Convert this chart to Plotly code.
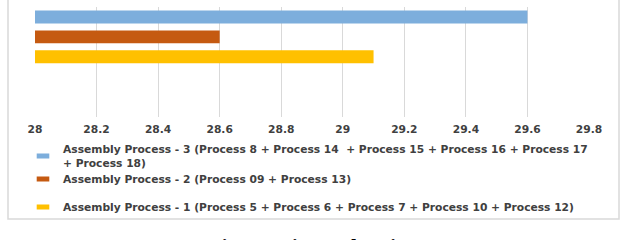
import plotly.graph_objects as go

# ---- data ----
category = ["Cycle time"]
series_names = [
    "Assembly Process - 3 (Process 8 + Process 14  + Process 15 + Process 16 + Process 17<br>+ Process 18)",
    "Assembly Process - 2 (Process 09 + Process 13)",
    "Assembly Process - 1 (Process 5 + Process 6 + Process 7 + Process 10 + Process 12)",
]
series_values = [29.6, 28.6, 29.1]
series_colors = ["#7DAEDC", "#C55A11", "#FFC000"]
tick_vals = [28, 28.2, 28.4, 28.6, 28.8, 29, 29.2, 29.4, 29.6, 29.8]
tick_text = ["28", "28.2", "28.4", "28.6", "28.8", "29", "29.2", "29.4", "29.6", "29.8"]
caption = "Fig 4.4 Line Balancing"

W, H = 627, 240
ML, MR, MT, MB = 35, 38, 7, 123
PW, PH = W - ML - MR, H - MT - MB

def px_x(p):
    return (p - ML) / PW

def px_y(p):
    return (H - MB - p) / PH

FONT = dict(family="DejaVu Sans", size=10.7, color="#404040", weight="bold")

fig = go.Figure()
legend_ids = ["legend", "legend2", "legend3"]
for name, val, col, lg in zip(series_names, series_values, series_colors, legend_ids):
    fig.add_trace(go.Bar(
        y=category, x=[val], orientation="h", name=name,
        marker=dict(color=col, line=dict(width=0)),
        showlegend=False, hoverinfo="x",
    ))
    # legend proxy
    fig.add_trace(go.Scatter(
        x=[None], y=[None], mode="markers", name=name,
        marker=dict(symbol="line-ew", size=9, line=dict(width=5, color=col)),
        showlegend=True, legend=lg,
    ))

legend_common = dict(font=FONT, bgcolor="rgba(0,0,0,0)", borderwidth=0,
                     xanchor="left", yanchor="middle", itemwidth=30)
fig.update_layout(
    width=W, height=H,
    margin=dict(l=ML, r=MR, t=MT, b=MB),
    paper_bgcolor="white", plot_bgcolor="white",
    barmode="group", bargap=0, bargroupgap=0.35,
    xaxis=dict(range=[28, 29.8], tickvals=tick_vals, ticktext=tick_text,
               showgrid=True, gridcolor="#D9D9D9", gridwidth=1,
               zeroline=False, showline=False, ticks="",
               tickfont=FONT, ticklabelstandoff=4, fixedrange=True),
    yaxis=dict(type="category", range=[1.34, -0.5], showticklabels=False,
               showgrid=False, zeroline=False, showline=False, fixedrange=True),
    legend=dict(x=px_x(23), y=px_y(156), **legend_common),
    legend2=dict(x=px_x(23), y=px_y(179), **legend_common),
    legend3=dict(x=px_x(23), y=px_y(207), **legend_common),
    showlegend=True,
)

fig.add_shape(type="rect", xref="paper", yref="paper",
              x0=px_x(8), x1=px_x(619), y0=px_y(219), y1=px_y(-10),
              line=dict(color="#D9D9D9", width=1.5), layer="below")

fig.add_annotation(text="<b>" + caption + "</b>", xref="paper", yref="paper",
                   x=px_x(313), y=px_y(232), xanchor="center", yanchor="top",
                   showarrow=False,
                   font=dict(family="Liberation Serif", size=22, color="black"))

fig.write_html("out.html")
